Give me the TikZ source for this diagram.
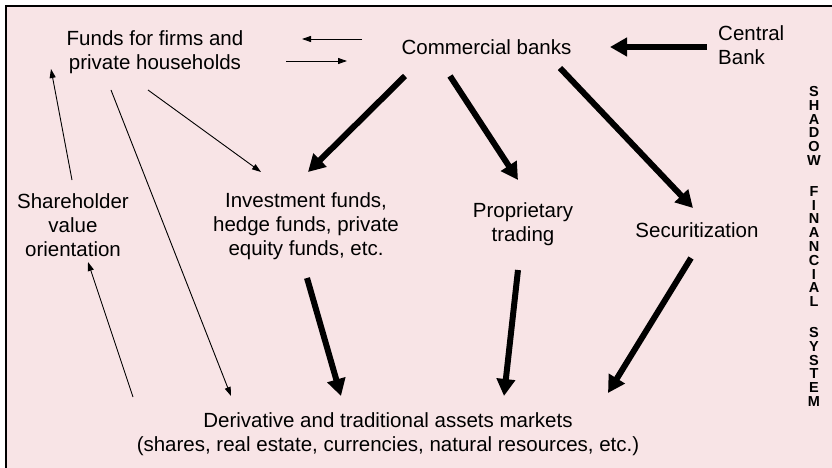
\documentclass[tikz,border=0pt]{standalone}
\usepackage{fontspec}
\setmainfont{Liberation Sans}
\usetikzlibrary{arrows.meta,calc}
\definecolor{panelpink}{RGB}{248,228,230}
\tikzset{
  lbl/.style={inner sep=0pt, align=center, font=\fontsize{20.5}{24}\selectfont},
  vlbl/.style={inner sep=0pt, align=center, font=\fontsize{14.5}{13.8}\selectfont\bfseries},
  thinarrow/.style={line width=0.9pt, -{Triangle[length=9pt,width=6pt]}},
  thickarrow/.style={line width=6pt, -{Triangle[length=17pt,width=18pt]}},
}
\begin{document}
\begin{tikzpicture}[x=1pt,y=-1pt]
\useasboundingbox (0,0) rectangle (832,468);
\clip (0,0) rectangle (832,468);
% panel with its frame
\fill[panelpink] (5.5,6) rectangle (840,480);
\draw[line width=2pt] (5.5,480) -- (5.5,6) -- (840,6);

% labels
\node[lbl] (funds) at (155,52) {Funds for firms and\\private households};
\node[lbl] (cb) at (486.5,47) {Commercial banks};
\node[lbl, align=left, anchor=west] (central) at (718,45.5) {Central\\Bank};
\node[lbl] (share) at (73,225) {Shareholder\\value\\orientation};
\node[lbl] (inv) at (306,226) {Investment funds,\\hedge funds, private\\equity funds, etc.};
\node[lbl] (prop) at (523,224) {Proprietary\\trading};
\node[lbl] (sec) at (697,230) {Securitization};
\node[lbl] (deriv) at (388,434) {Derivative and traditional assets markets\\(shares, real estate, currencies, natural resources, etc.)};

% vertical caption
\node[vlbl] (shadow) at (814,126) {S\\H\\A\\D\\O\\W};
\node[vlbl] (financial) at (814,246.5) {F\\I\\N\\A\\N\\C\\I\\A\\L};
\node[vlbl] (system) at (814,367) {S\\Y\\S\\T\\E\\M};

% thin connectors
\draw[thinarrow] ($(cb)+(-124.5,-8)$) -- ($(funds)+(147,-13)$);
\draw[thinarrow] ($(funds)+(131,9)$) -- ($(cb)+(-139.5,14)$);
\draw[thinarrow] ($(funds)+(-7,38)$) -- ($(inv)+(-45,-54)$);
\draw[thinarrow] ($(funds)+(-44,38)$) -- ($(deriv)+(-157,-38)$);
\draw[thinarrow] ($(share)+(-1,-45)$) -- ($(funds)+(-104,17)$);
\draw[thinarrow] ($(deriv)+(-255,-37)$) -- ($(share)+(15,37)$);

% thick connectors
\draw[thickarrow] ($(central.west)+(-11,1.5)$) -- ($(cb)+(123.5,0)$);
\draw[thickarrow] ($(cb)+(-81.5,29)$) -- ($(inv)+(2,-54)$);
\draw[thickarrow] ($(cb)+(-36.5,29)$) -- ($(prop)+(-5,-44)$);
\draw[thickarrow] ($(cb)+(73.5,21)$) -- ($(sec)+(-4,-22)$);
\draw[thickarrow] ($(inv)+(1,52)$) -- ($(deriv)+(-47,-38)$);
\draw[thickarrow] ($(prop)+(-5,46)$) -- ($(deriv)+(116,-38)$);
\draw[thickarrow] ($(sec)+(-6,28)$) -- ($(deriv)+(220,-41)$);
\end{tikzpicture}
\end{document}
